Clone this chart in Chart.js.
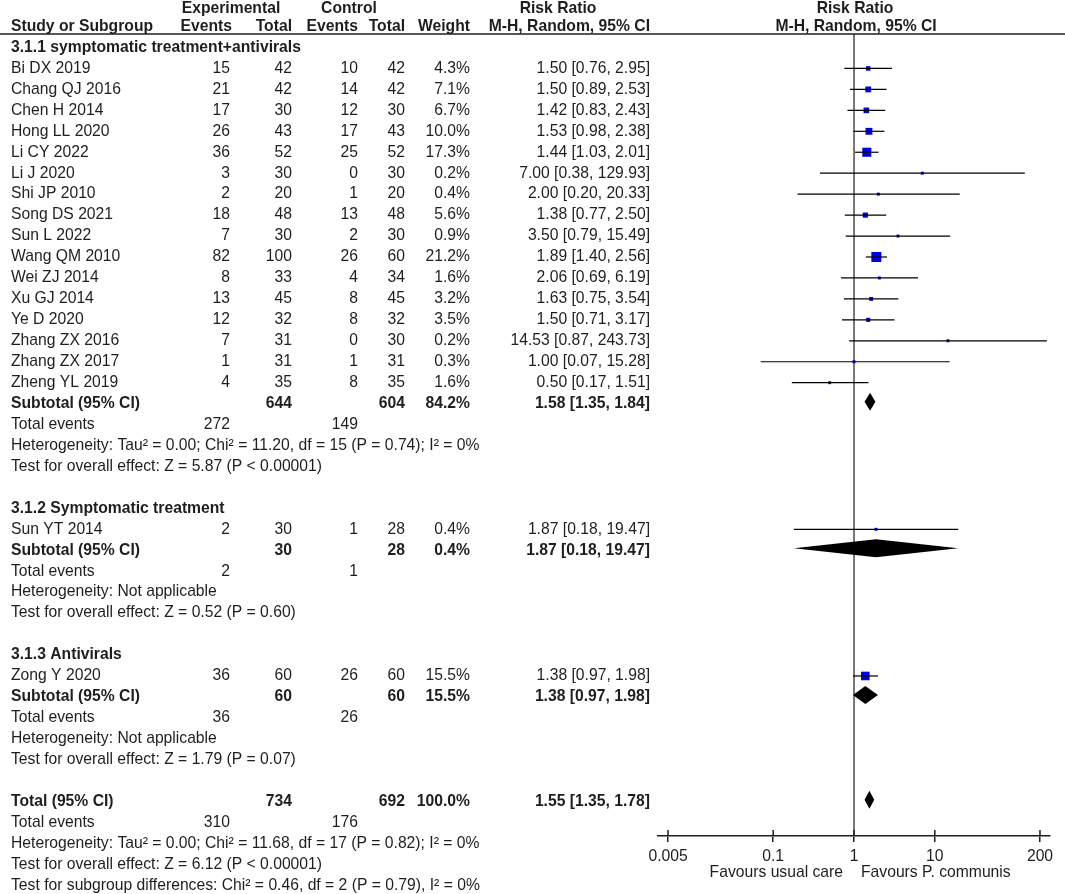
<!DOCTYPE html>
<html>
<head>
<meta charset="utf-8">
<script src="https://cdn.jsdelivr.net/npm/chart.js@4.4.0/dist/chart.umd.min.js"></script>
<style>
  html, body { margin: 0; padding: 0; background: #fff; }
  #forest { display: block; }
</style>
</head>
<body>
<canvas id="forest" width="1065" height="894"></canvas>
<script>
// study level data
const studyNames = ["Bi DX 2019", "Chang QJ 2016", "Chen H 2014", "Hong LL 2020", "Li CY 2022", "Li J 2020",
    "Shi JP 2010", "Song DS 2021", "Sun L 2022", "Wang QM 2010", "Wei ZJ 2014", "Xu GJ 2014", "Ye D 2020",
    "Zhang ZX 2016", "Zhang ZX 2017", "Zheng YL 2019", "Sun YT 2014", "Zong Y 2020"];
const studyGroup = [0, 0, 0, 0, 0, 0, 0, 0, 0, 0, 0, 0, 0, 0, 0, 0, 1, 2];
const expEvents = [15, 21, 17, 26, 36, 3, 2, 18, 7, 82, 8, 13, 12, 7, 1, 4, 2, 36];
const expTotal = [42, 42, 30, 43, 52, 30, 20, 48, 30, 100, 33, 45, 32, 31, 31, 35, 30, 60];
const ctlEvents = [10, 14, 12, 17, 25, 0, 1, 13, 2, 26, 4, 8, 8, 0, 1, 8, 1, 26];
const ctlTotal = [42, 42, 30, 43, 52, 30, 20, 48, 30, 60, 34, 45, 32, 30, 31, 35, 28, 60];
const weights = [4.3, 7.1, 6.7, 10.0, 17.3, 0.2, 0.4, 5.6, 0.9, 21.2, 1.6, 3.2, 3.5, 0.2, 0.3, 1.6, 0.4, 15.5];
const riskRatio = [1.50, 1.50, 1.42, 1.53, 1.44, 7.00, 2.00, 1.38, 3.50, 1.89, 2.06, 1.63, 1.50, 14.53, 1.00, 0.50, 1.87, 1.38];
const ciLower = [0.76, 0.89, 0.83, 0.98, 1.03, 0.38, 0.20, 0.77, 0.79, 1.40, 0.69, 0.75, 0.71, 0.87, 0.07, 0.17, 0.18, 0.97];
const ciUpper = [2.95, 2.53, 2.43, 2.38, 2.01, 129.93, 20.33, 2.50, 15.49, 2.56, 6.19, 3.54, 3.17, 243.73, 15.28, 1.51, 19.47, 1.98];

// subgroup data
const groupTitles = ["3.1.1 symptomatic treatment+antivirals", "3.1.2 Symptomatic treatment", "3.1.3 Antivirals"];
const groupExpTotal = [644, 30, 60];
const groupCtlTotal = [604, 28, 60];
const groupExpEvents = [272, 2, 36];
const groupCtlEvents = [149, 1, 26];
const groupWeight = [84.2, 0.4, 15.5];
const groupRR = [1.58, 1.87, 1.38];
const groupLower = [1.35, 0.18, 0.97];
const groupUpper = [1.84, 19.47, 1.98];
const groupHetero = ["Heterogeneity: Tau\u00b2 = 0.00; Chi\u00b2 = 11.20, df = 15 (P = 0.74); I\u00b2 = 0%",
    "Heterogeneity: Not applicable", "Heterogeneity: Not applicable"];
const groupEffect = ["Test for overall effect: Z = 5.87 (P < 0.00001)",
    "Test for overall effect: Z = 0.52 (P = 0.60)", "Test for overall effect: Z = 1.79 (P = 0.07)"];

// overall
const overallTotals = [734, 692];
const overallEvents = [310, 176];
const overallWeight = 100.0;
const overallCI = [1.55, 1.35, 1.78];
const overallNotes = ["Heterogeneity: Tau\u00b2 = 0.00; Chi\u00b2 = 11.68, df = 17 (P = 0.82); I\u00b2 = 0%",
    "Test for overall effect: Z = 6.12 (P < 0.00001)",
    "Test for subgroup differences: Chi\u00b2 = 0.46, df = 2 (P = 0.79), I\u00b2 = 0%"];

const tickValues = [0.005, 0.1, 1, 10, 200];
const favourLabels = ["Favours usual care", "Favours P. communis"];

const FONT = '"Liberation Sans", Arial, sans-serif';
const FSIZE = "15.7px ";
const INK = "#1e1e1e";
const colX = { name: 11, expEvents: 230, expTotal: 292, ctlEvents: 358, ctlTotal: 405, weight: 470, ci: 650 };

function fmtCI(rr, lo, hi) {
    return rr.toFixed(2) + " [" + lo.toFixed(2) + ", " + hi.toFixed(2) + "]";
}

// lay the table out row by row
const rows = [];
const diamonds = [];
const studyRow = [];
let k = 0;
groupTitles.forEach((title, g) => {
    rows.push({ k: k++, bold: true, cells: [[title, colX.name, "left"]] });
    studyNames.forEach((name, i) => {
        if (studyGroup[i] !== g) return;
        studyRow[i] = k;
        rows.push({ k: k++, bold: false, cells: [
            [name, colX.name, "left"],
            [String(expEvents[i]), colX.expEvents, "right"],
            [String(expTotal[i]), colX.expTotal, "right"],
            [String(ctlEvents[i]), colX.ctlEvents, "right"],
            [String(ctlTotal[i]), colX.ctlTotal, "right"],
            [weights[i].toFixed(1) + "%", colX.weight, "right"],
            [fmtCI(riskRatio[i], ciLower[i], ciUpper[i]), colX.ci, "right"]
        ] });
    });
    diamonds.push({ k: k, rr: groupRR[g], lo: groupLower[g], hi: groupUpper[g] });
    rows.push({ k: k++, bold: true, cells: [
        ["Subtotal (95% CI)", colX.name, "left"],
        [String(groupExpTotal[g]), colX.expTotal, "right"],
        [String(groupCtlTotal[g]), colX.ctlTotal, "right"],
        [groupWeight[g].toFixed(1) + "%", colX.weight, "right"],
        [fmtCI(groupRR[g], groupLower[g], groupUpper[g]), colX.ci, "right"]
    ] });
    rows.push({ k: k++, bold: false, cells: [
        ["Total events", colX.name, "left"],
        [String(groupExpEvents[g]), colX.expEvents, "right"],
        [String(groupCtlEvents[g]), colX.ctlEvents, "right"]
    ] });
    rows.push({ k: k++, bold: false, cells: [[groupHetero[g], colX.name, "left"]] });
    rows.push({ k: k++, bold: false, cells: [[groupEffect[g], colX.name, "left"]] });
    k++; // blank line
});
diamonds.push({ k: k, rr: overallCI[0], lo: overallCI[1], hi: overallCI[2] });
rows.push({ k: k++, bold: true, cells: [
    ["Total (95% CI)", colX.name, "left"],
    [String(overallTotals[0]), colX.expTotal, "right"],
    [String(overallTotals[1]), colX.ctlTotal, "right"],
    [overallWeight.toFixed(1) + "%", colX.weight, "right"],
    [fmtCI(overallCI[0], overallCI[1], overallCI[2]), colX.ci, "right"]
] });
rows.push({ k: k++, bold: false, cells: [
    ["Total events", colX.name, "left"],
    [String(overallEvents[0]), colX.expEvents, "right"],
    [String(overallEvents[1]), colX.ctlEvents, "right"]
] });
overallNotes.forEach(t => rows.push({ k: k++, bold: false, cells: [[t, colX.name, "left"]] }));

const forestPlugin = {
    id: "forestTable",
    beforeDatasetsDraw(chart) {
        const { ctx, chartArea, scales: { x } } = chart;
        const px = x.getPixelForValue(1);
        ctx.save();
        ctx.strokeStyle = INK;
        ctx.lineWidth = 1.2;
        ctx.beginPath();
        ctx.moveTo(px, chartArea.top - 1);
        ctx.lineTo(px, chartArea.bottom);
        ctx.stroke();
        ctx.restore();
    },
    afterDraw(chart) {
        const { ctx, chartArea, scales: { x, y } } = chart;
        ctx.save();
        ctx.fillStyle = INK;
        ctx.textBaseline = "middle";

        // header
        ctx.font = "bold " + FSIZE + FONT;
        ctx.textAlign = "center";
        ctx.fillText("Experimental", 231, 9);
        ctx.fillText("Control", 349, 9);
        ctx.fillText("Risk Ratio", 558, 9);
        ctx.fillText("Risk Ratio", 855, 9);
        ctx.fillText("M-H, Random, 95% CI", 856, 27);
        ctx.textAlign = "left";
        ctx.fillText("Study or Subgroup", colX.name, 27);
        ctx.textAlign = "right";
        ctx.fillText("Events", colX.expEvents + 2, 27);
        ctx.fillText("Total", colX.expTotal, 27);
        ctx.fillText("Events", colX.ctlEvents, 27);
        ctx.fillText("Total", colX.ctlTotal, 27);
        ctx.fillText("Weight", colX.weight, 27);
        ctx.fillText("M-H, Random, 95% CI", colX.ci, 27);
        ctx.strokeStyle = INK;
        ctx.lineWidth = 1.5;
        ctx.beginPath();
        ctx.moveTo(0, 34);
        ctx.lineTo(chart.width, 34);
        ctx.stroke();

        // table body
        rows.forEach(r => {
            const py = y.getPixelForValue(r.k);
            ctx.font = (r.bold ? "bold " : "") + FSIZE + FONT;
            r.cells.forEach(([text, cx, align]) => {
                ctx.textAlign = align;
                ctx.fillText(text, cx, py);
            });
        });

        // pooled diamonds
        ctx.fillStyle = "#000";
        diamonds.forEach(d => {
            const py = y.getPixelForValue(d.k) - 2;
            ctx.beginPath();
            ctx.moveTo(x.getPixelForValue(d.lo), py);
            ctx.lineTo(x.getPixelForValue(d.rr), py - 9);
            ctx.lineTo(x.getPixelForValue(d.hi), py);
            ctx.lineTo(x.getPixelForValue(d.rr), py + 9);
            ctx.closePath();
            ctx.fill();
        });

        // upper half of the axis ticks
        ctx.strokeStyle = INK;
        ctx.lineWidth = 1.5;
        x.ticks.forEach((t, i) => {
            const tx = x.getPixelForTick(i);
            ctx.beginPath();
            ctx.moveTo(tx, chartArea.bottom - 6);
            ctx.lineTo(tx, chartArea.bottom);
            ctx.stroke();
        });

        // favours labels
        const one = x.getPixelForValue(1);
        ctx.fillStyle = INK;
        ctx.font = FSIZE + FONT;
        ctx.textAlign = "right";
        ctx.fillText(favourLabels[0], one - 11, chartArea.bottom + 37);
        ctx.textAlign = "left";
        ctx.fillText(favourLabels[1], one + 7, chartArea.bottom + 37);
        ctx.restore();
    }
};

const ciSets = studyNames.map((name, i) => ({
    label: name + " CI",
    data: [{ x: ciLower[i], y: studyRow[i] }, { x: ciUpper[i], y: studyRow[i] }],
    showLine: true,
    borderColor: "#000",
    borderWidth: 1.2,
    pointRadius: 0
}));

const squareSet = {
    label: "Risk ratio",
    data: studyNames.map((n, i) => ({ x: riskRatio[i], y: studyRow[i] })),
    pointStyle: "rect",
    backgroundColor: "#0000e6",
    borderWidth: 0,
    pointRadius: c => Math.max(2.1, 1.54 * Math.sqrt(weights[c.dataIndex]))
};

const chart = new Chart(document.getElementById("forest").getContext("2d"), {
    type: "scatter",
    data: { datasets: [...ciSets, squareSet] },
    options: {
        responsive: false,
        animation: false,
        events: [],
        layout: { padding: { top: 35, left: 658, right: 15, bottom: 0 } },
        plugins: { legend: { display: false }, tooltip: { enabled: false } },
        scales: {
            x: {
                type: "logarithmic",
                min: 0.003757,
                max: 266,
                afterBuildTicks: s => { s.ticks = tickValues.map(v => ({ value: v })); },
                afterFit: s => { s.height = 58; },
                ticks: {
                    autoSkip: false,
                    maxRotation: 0,
                    color: INK,
                    padding: 5,
                    font: { family: FONT, size: 15.7 },
                    callback: v => String(v)
                },
                grid: { drawOnChartArea: false, drawTicks: true, tickLength: 6, color: INK, lineWidth: 1.5 },
                border: { display: true, color: INK, width: 1.5 }
            },
            y: { type: "linear", display: false, reverse: true, min: -0.597, max: 37.64 }
        }
    },
    plugins: [forestPlugin]
});
</script>
</body>
</html>
